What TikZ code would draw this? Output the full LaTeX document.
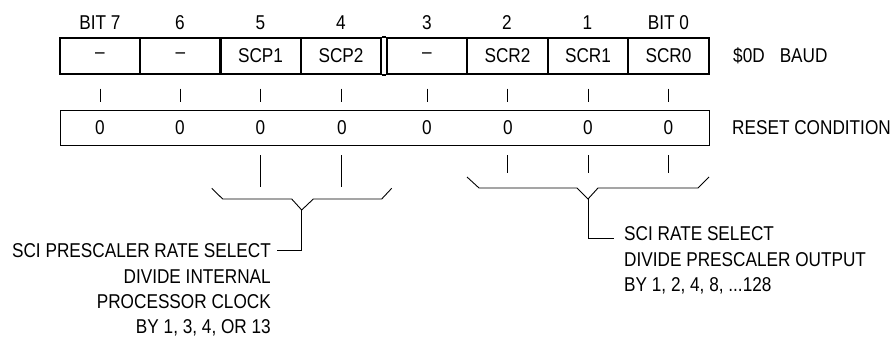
\documentclass[tikz,border=0pt]{standalone}
\usepackage{fontspec}
\setmainfont{Liberation Sans}[FakeStretch=0.86]
\usetikzlibrary{positioning}
\begin{document}
\begin{tikzpicture}[x=1pt,y=1pt,bitcell/.style={draw,line width=2pt,minimum width=80.5pt,minimum height=35.5pt,inner sep=0pt,font=\fontsize{20}{22}\selectfont},lbl/.style={inner sep=0pt,font=\fontsize{20}{22}\selectfont},rule/.style={line width=0.9pt},brace/.style={line width=0.9pt}]
\useasboundingbox (0,0) rectangle (891,-339);
\node[lbl] (t7) at (100,-23) {BIT 7};
\node[lbl] (t6) at (180,-23) {6};
\node[lbl] (t5) at (260.5,-23) {5};
\node[lbl] (t4) at (341,-23) {4};
\node[lbl] (t3) at (427,-23) {3};
\node[lbl] (t2) at (507,-23) {2};
\node[lbl] (t1) at (587.5,-23) {1};
\node[lbl] (t0) at (668.5,-23) {BIT 0};
\node[bitcell] (b7) at (100,-56) {--};
\node[bitcell] (b6) at (180.5,-56) {--};
\node[bitcell] (b5) at (260.5,-56) {SCP1};
\node[bitcell] (b4) at (341,-56) {SCP2};
\node[bitcell] (b3) at (427,-56) {--};
\node[bitcell] (b2) at (507.5,-56) {SCR2};
\node[bitcell] (b1) at (588,-56) {SCR1};
\node[bitcell] (b0) at (668.5,-56) {SCR0};
\draw[line width=2pt] (b4.north east) -- (b3.north west);
\draw[line width=2pt] (b4.south east) -- (b3.south west);
\node[lbl,anchor=west] (reg) at (733,-56) {\$0D\hspace{15pt}BAUD};
\node[draw,rule,minimum width=649pt,minimum height=35pt] (reset) at (384.5,-127.5) {};
\node[lbl] (r7) at (100,-127.5) {0};
\node[lbl] (r6) at (180,-127.5) {0};
\node[lbl] (r5) at (260.5,-127.5) {0};
\node[lbl] (r4) at (342,-127.5) {0};
\node[lbl] (r3) at (427,-127.5) {0};
\node[lbl] (r2) at (508,-127.5) {0};
\node[lbl] (r1) at (588,-127.5) {0};
\node[lbl] (r0) at (668.5,-127.5) {0};
\node[lbl,anchor=west] (rst) at (732,-127.5) {RESET CONDITION};
\draw[rule] ([yshift=-14pt]b7.south) -- ([yshift=-27pt]b7.south);
\draw[rule] ([yshift=-14pt]b6.south) -- ([yshift=-27pt]b6.south);
\draw[rule] ([yshift=-14pt]b5.south) -- ([yshift=-27pt]b5.south);
\draw[rule] ([yshift=-14pt]b4.south) -- ([yshift=-27pt]b4.south);
\draw[rule] ([yshift=-14pt]b3.south) -- ([yshift=-27pt]b3.south);
\draw[rule] ([yshift=-14pt]b2.south) -- ([yshift=-27pt]b2.south);
\draw[rule] ([yshift=-14pt]b1.south) -- ([yshift=-27pt]b1.south);
\draw[rule] ([yshift=-14pt]b0.south) -- ([yshift=-27pt]b0.south);
\draw[rule] ([yshift=-10pt]reset.south -| b5) -- ([yshift=-42pt]reset.south -| b5);
\draw[rule] ([yshift=-10pt]reset.south -| b4) -- ([yshift=-42pt]reset.south -| b4);
\draw[rule] ([yshift=-10pt]reset.south -| b2) -- ([yshift=-28pt]reset.south -| b2);
\draw[rule] ([yshift=-10pt]reset.south -| b1) -- ([yshift=-28pt]reset.south -| b1);
\draw[rule] ([yshift=-10pt]reset.south -| b0) -- ([yshift=-28pt]reset.south -| b0);
\coordinate (scptip) at (301.7,-210);
\coordinate (scrtip) at (588,-199);
\draw[brace] (211.7,-188.3) -- (222.7,-199) -- (291.7,-199) -- (scptip) -- (313.3,-199) -- (381.7,-199) -- (391.7,-188.3);
\draw[brace] (467,-177) -- (479,-188) -- (577,-188) -- (scrtip) -- (598,-188) -- (698,-188) -- (709,-177);
\node[lbl,anchor=east] (scpsel) at (271,-250.5) {SCI PRESCALER RATE SELECT};
\node[lbl,anchor=north east,align=right,font=\fontsize{20}{25}\selectfont] (scpdiv) at (271,-270) {DIVIDE INTERNAL\\PROCESSOR CLOCK\\BY 1, 3, 4, OR 13};
\node[lbl,anchor=north west,align=left,font=\fontsize{20}{25.5}\selectfont] (scrsel) at (624,-226.5) {SCI RATE SELECT\\DIVIDE PRESCALER OUTPUT\\BY 1, 2, 4, 8, ...128};
\draw[rule] (scptip) |- ([xshift=5.7pt]scpsel.east);
\draw[rule] (scrtip) |- (614,-238);
\end{tikzpicture}
\end{document}
